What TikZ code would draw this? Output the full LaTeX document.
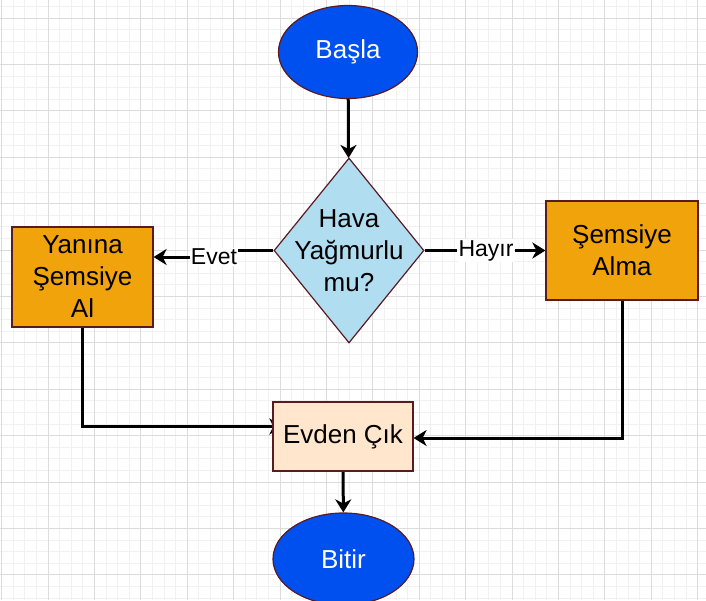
\documentclass[tikz,border=0pt]{standalone}
\usepackage{fontspec}
\setmainfont{Liberation Sans}
\usetikzlibrary{shapes.geometric,arrows.meta,backgrounds}
\definecolor{edgered}{HTML}{5A1A22}
\definecolor{bluefill}{HTML}{0050EF}
\definecolor{orangefill}{HTML}{F0A30A}
\definecolor{skyfill}{HTML}{B1DDF0}
\definecolor{peachfill}{HTML}{FFE6CC}
\definecolor{minorgrid}{HTML}{F1F1F1}
\definecolor{majorgrid}{HTML}{DCDCDC}
\tikzset{
  terminal/.style={ellipse,draw=edgered,line width=1.2pt,fill=bluefill,text=white,inner sep=0pt},
  process/.style={rectangle,draw=edgered,line width=1.2pt,align=center,inner sep=0pt},
  decision/.style={diamond,draw=edgered,line width=1.2pt,fill=skyfill,inner sep=0pt},
  flow/.style={line width=3pt,-{Stealth[length=13pt,width=16pt,inset=4pt]}},
  elabel/.style={fill=white,inner sep=1pt,font=\fontsize{23}{28}\selectfont}
}
\begin{document}
\begin{tikzpicture}[x=1pt,y=-1pt,font=\fontsize{26}{32}\selectfont]
\useasboundingbox (0,0) rectangle (706,600);
% nodes
\node[terminal,minimum width=139pt,minimum height=93pt] (basla) at (348,52) {Başla};
\node[decision,minimum width=150pt,minimum height=185pt] (dia) at (349,250.5) {};
\node[align=center] (soru) at (dia.center) {Hava\\Yağmurlu\\mu?};
\node[process,fill=orangefill,minimum width=141pt,minimum height=100pt] (yanina) at (82.5,277) {Yanına\\Şemsiye\\Al};
\node[process,fill=orangefill,minimum width=152pt,minimum height=99pt] (alma) at (622,250.5) {Şemsiye\\Alma};
\node[process,fill=peachfill,minimum width=140pt,minimum height=69pt] (evden) at (343,436.5) {Evden Çık};
\node[terminal,minimum width=141pt,minimum height=92pt] (bitir) at (343.5,559) {Bitir};
\node[elabel] (evet) at (214,257) {Evet};
\node[elabel] (hayir) at (486,250.5) {Hayır};
\begin{scope}[on background layer]
% grid
\foreach \i in {0,...,60} \draw[minorgrid,line width=0.8pt] (1.5+\i*11.6,0) -- ++(0,600);
\foreach \j in {0,...,51} \draw[minorgrid,line width=0.8pt] (0,6.4+\j*11.6) -- ++(706,0);
\foreach \i in {0,...,15} \draw[majorgrid,line width=0.8pt] (1.5+\i*46.4,0) -- ++(0,600);
\foreach \j in {0,...,12} \draw[majorgrid,line width=0.8pt] (0,18+\j*46.4) -- ++(706,0);
% connectors
\draw[flow] (basla) -- (dia);
\draw[line width=3pt] (dia.west) -- (evet.east |- dia.west);
\draw[flow] (evet.west) -- (yanina.east |- evet.west);
\draw[line width=3pt] (dia.east) -- (hayir.west |- dia.east);
\draw[flow] (hayir.east) -- (alma.west);
\draw[flow] (yanina.south) |- ([xshift=10pt,yshift=10pt]evden.west);
\draw[flow] (alma.south) |- ([yshift=-1.5pt]evden.east);
\draw[flow] (evden) -- (bitir);
\end{scope}
\end{tikzpicture}
\end{document}
